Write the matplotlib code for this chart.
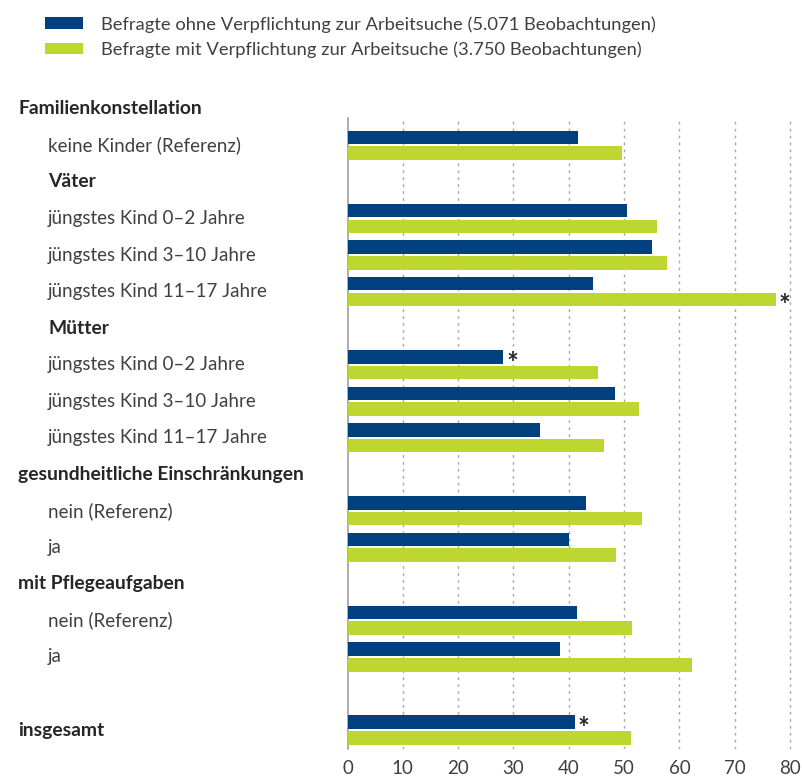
import matplotlib.pyplot as plt
import matplotlib.transforms as mtransforms
import numpy as np

plt.rcParams['font.family'] = ['Lato', 'DejaVu Sans']

# rows from top to bottom; headers are bold, items are indented
row_labels = ['Familienkonstellation', 'keine Kinder (Referenz)', 'Väter',
              'jüngstes Kind 0–2 Jahre', 'jüngstes Kind 3–10 Jahre', 'jüngstes Kind 11–17 Jahre',
              'Mütter',
              'jüngstes Kind 0–2 Jahre', 'jüngstes Kind 3–10 Jahre', 'jüngstes Kind 11–17 Jahre',
              'gesundheitliche Einschränkungen', 'nein (Referenz)', 'ja',
              'mit Pflegeaufgaben', 'nein (Referenz)', 'ja',
              '', 'insgesamt']
row_kind = ['head', 'item', 'sub', 'item', 'item', 'item', 'sub', 'item', 'item', 'item',
            'head', 'item', 'item', 'head', 'item', 'item', 'none', 'head']

# values in percent (None = no bar in that row)
ohne = [None, 41.7, None, 50.6, 55.0, 44.4, None, 28.2, 48.3, 34.8,
        None, 43.1, 40.1, None, 41.4, 38.4, None, 41.1]
mit = [None, 49.7, None, 56.0, 57.7, 77.4, None, 45.3, 52.7, 46.4,
       None, 53.3, 48.6, None, 51.5, 62.2, None, 51.3]
ohne_star = [7, 17]   # rows with a significance star
mit_star = [5]

legend_labels = ['Befragte ohne Verpflichtung zur Arbeitsuche (5.071 Beobachtungen)',
                 'Befragte mit Verpflichtung zur Arbeitsuche (3.750 Beobachtungen)']
xticks = [0, 10, 20, 30, 40, 50, 60, 70, 80]

blue = '#00407f'
green = '#bed630'
text_c = '#404040'
head_c = '#262626'
fs = 13.5

fig = plt.figure(figsize=(8.02, 7.76), dpi=100)
W, H = 802, 776
ax = fig.add_axes([347.5 / W, 1 - 749 / H, (791.7 - 347.5) / W, (749 - 118) / H])

idx = [i for i, v in enumerate(ohne) if v is not None]
y = np.array(idx, dtype=float)
h = 0.37
off = 0.215
b1 = ax.barh(y - off, [ohne[i] for i in idx], height=h, color=blue, zorder=3)
b2 = ax.barh(y + off, [mit[i] for i in idx], height=h, color=green, zorder=3)

for i in ohne_star:
    ax.annotate('*', (ohne[i], i - off), xytext=(2, -5), textcoords='offset points',
                ha='left', va='center', fontsize=20, fontweight='bold', color=head_c)
for i in mit_star:
    ax.annotate('*', (mit[i], i + off), xytext=(2, -5), textcoords='offset points',
                ha='left', va='center', fontsize=20, fontweight='bold', color=head_c)

ax.set_xlim(0, 80.3)
ax.set_ylim(17.52, 0.25)
ax.set_xticks(xticks)
ax.set_yticks([])
ax.tick_params(axis='x', length=0, pad=8, labelsize=fs, labelcolor=text_c)
for s in ['top', 'right', 'bottom']:
    ax.spines[s].set_visible(False)
ax.spines['left'].set_color('#a0a0a0')
ax.spines['left'].set_linewidth(1.2)
for x in xticks[1:]:
    ax.axvline(x, color='#a8a8a8', linestyle=(0, (2, 3)), linewidth=1, zorder=1)

# row labels, left of the axes (x in figure coords, y in data coords)
trans = mtransforms.blended_transform_factory(fig.transFigure, ax.transData)
for i, (lab, kind) in enumerate(zip(row_labels, row_kind)):
    if kind == 'none':
        continue
    xpos = 18 / W if kind == 'head' else 48 / W
    bold = kind in ('head', 'sub')
    ax.text(xpos, i, lab, transform=trans, ha='left', va='center',
            fontsize=13.9 if bold else fs, fontweight='bold' if bold else 'normal',
            color=head_c if bold else text_c)

fig.legend([b1, b2], legend_labels, loc='upper left', bbox_to_anchor=(45 / W, 1 - 16 / H),
           frameon=False, fontsize=13.2, handlelength=2.07, handleheight=0.6,
           handletextpad=1.0, labelspacing=0.48, borderpad=0, borderaxespad=0,
           labelcolor=text_c)

fig.savefig('out.png', dpi=100)
